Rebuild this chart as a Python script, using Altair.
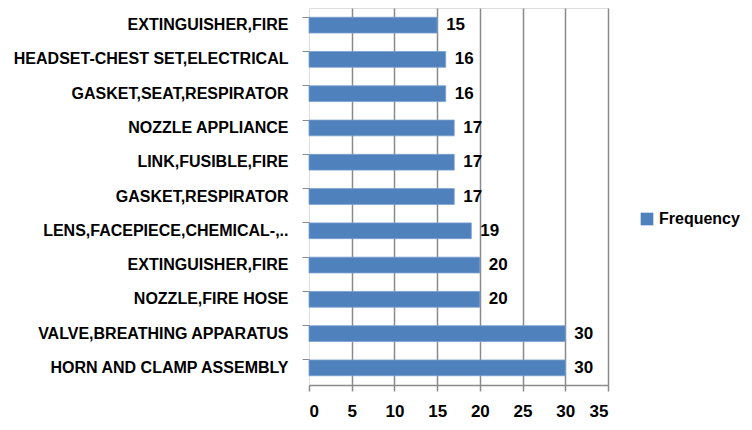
import json
import altair as alt
import pandas as pd

names = [
    "EXTINGUISHER,FIRE",
    "HEADSET-CHEST SET,ELECTRICAL",
    "GASKET,SEAT,RESPIRATOR",
    "NOZZLE APPLIANCE",
    "LINK,FUSIBLE,FIRE",
    "GASKET,RESPIRATOR",
    "LENS,FACEPIECE,CHEMICAL-,..",
    "EXTINGUISHER,FIRE",
    "NOZZLE,FIRE HOSE",
    "VALVE,BREATHING APPARATUS",
    "HORN AND CLAMP ASSEMBLY",
]
values = [15, 16, 16, 17, 17, 17, 19, 20, 20, 30, 30]
series_name = "Frequency"
x_ticks = [0, 5, 10, 15, 20, 25, 30, 35]

df = pd.DataFrame({
    "idx": list(range(len(names))),
    "name": names,
    "value": values,
    "series": [series_name] * len(names),
})

label_expr = json.dumps(names) + "[datum.value]"
FONT = "Liberation Sans"
GRID = "#8a8a8a"

y_enc = alt.Y(
    "idx:O",
    sort="ascending",
    title=None,
    scale=alt.Scale(paddingInner=0.54, paddingOuter=0.27),
    axis=alt.Axis(
        labelExpr=label_expr,
        labelFont=FONT,
        labelFontSize=16,
        labelFontWeight="bold",
        labelColor="#000000",
        labelPadding=14,
        labelLimit=400,
        tickSize=7,
        tickColor=GRID,
        tickWidth=1,
        bandPosition=0,
        domain=False,
        grid=False,
    ),
)

x_enc = alt.X(
    "value:Q",
    title=None,
    scale=alt.Scale(domain=[0, 35], nice=False),
    axis=alt.Axis(
        values=x_ticks,
        labelFont=FONT,
        labelFontSize=17,
        labelFontWeight="bold",
        labelColor="#000000",
        labelPadding=12,
        tickSize=6,
        tickColor=GRID,
        tickWidth=1.5,
        domainColor=GRID,
        domainWidth=1.5,
        grid=True,
        gridColor={"condition": {"test": "datum.value === 0", "value": "transparent"}, "value": GRID},
        gridWidth=1.5,
    ),
)

bars = alt.Chart(df).mark_bar(stroke="#7aa0cf", strokeWidth=0.8).encode(
    y=y_enc,
    x=x_enc,
    color=alt.Color(
        "series:N",
        scale=alt.Scale(domain=[series_name], range=["#4F81BD"]),
        legend=alt.Legend(
            title=None,
            orient="none",
            legendX=330,
            legendY=203,
            symbolType="square",
            symbolSize=160,
            symbolStrokeWidth=0,
            labelFont=FONT,
            labelFontSize=16,
            labelFontWeight="bold",
            labelColor="#000000",
            labelOffset=4,
            padding=0,
        ),
    ),
)

labels = alt.Chart(df).mark_text(
    align="left", baseline="middle", dx=9,
    font=FONT, fontSize=17, fontWeight="bold", color="#000000",
).encode(
    y=alt.Y("idx:O", sort="ascending"),
    x=alt.X("value:Q"),
    text=alt.Text("value:Q"),
)

chart = alt.layer(bars, labels).properties(
    width=299,
    height=377,
    autosize=alt.AutoSizeParams(type="none"),
    padding={"left": 301, "top": 0, "right": 136, "bottom": 37},
).configure_view(stroke=None).configure(background="#ffffff")

chart.save("out.html", embed_options={"renderer": "svg", "actions": False})
